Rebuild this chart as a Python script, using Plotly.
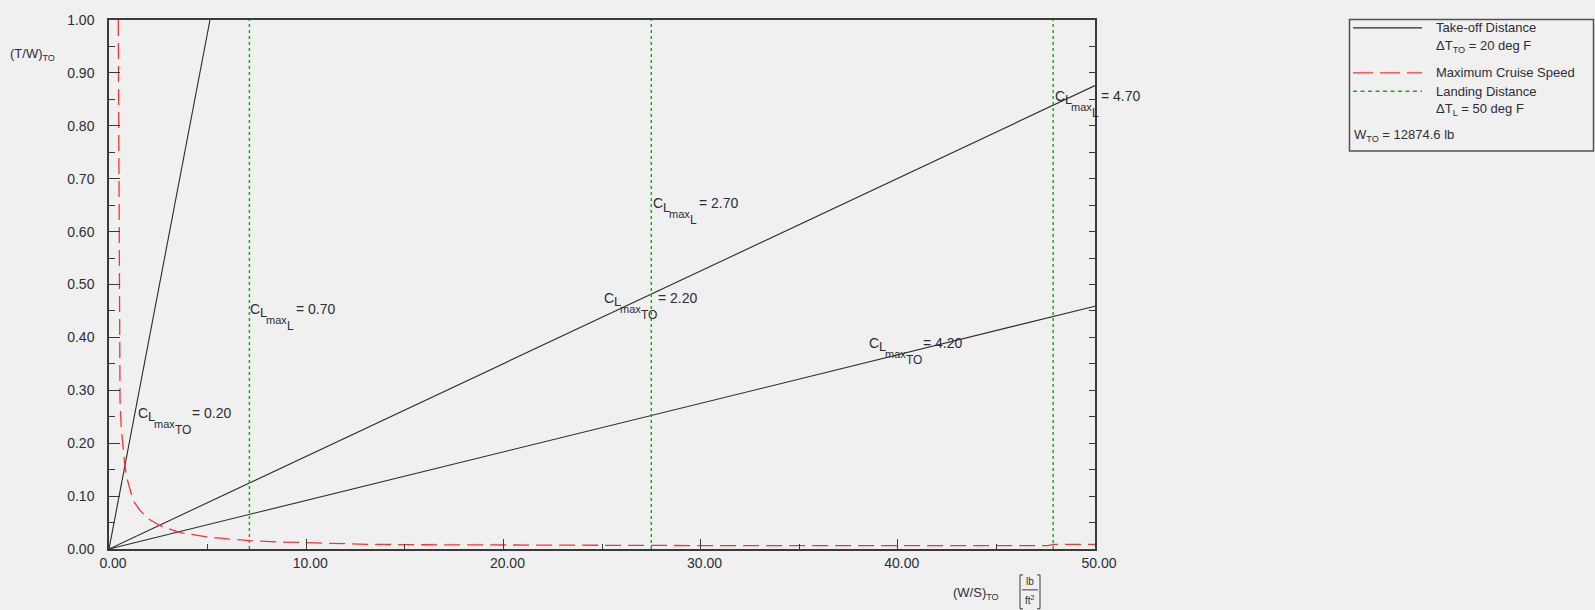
import plotly.graph_objects as go

# ---- data -------------------------------------------------------------
# Take-off distance lines (through the origin), one per CLmax_TO
to_cl = ["0.20", "2.20", "4.20"]
to_x_end = [5.12, 50.0, 50.0]
to_y_end = [1.0, 0.876, 0.459]

# Landing distance limits (vertical lines), one per CLmax_L
land_cl = ["0.70", "2.70", "4.70"]
land_x = [7.12, 27.50, 47.88]

# Maximum cruise speed requirement
cruise_ws = [0.47, 0.50, 0.56, 0.62, 0.69, 0.80, 0.90, 1.06, 1.22, 1.57, 2.00,
             2.59, 3.10, 3.60, 4.10, 4.95, 6.00, 7.15, 8.50, 9.70, 11.5, 13.07,
             16.0, 20.0, 25.0, 30.0, 35.0, 40.0, 47.6, 47.9, 50.0]
cruise_tw = [1.00, 0.60, 0.28, 0.23, 0.20, 0.16, 0.135, 0.111, 0.092, 0.073,
             0.057, 0.044, 0.037, 0.031, 0.028, 0.023, 0.019, 0.0157, 0.0135,
             0.012, 0.010, 0.0089, 0.0080, 0.0073, 0.0068, 0.0065, 0.0063,
             0.0062, 0.0062, 0.0088, 0.0088]

# Curve labels: anchor of the "C" glyph, subscript and value
label_x = [1.37, 7.06, 24.98, 27.48, 38.42, 47.89]
label_y = [0.258, 0.454, 0.475, 0.654, 0.390, 0.857]
label_sub = ["TO", "L", "TO", "L", "TO", "L"]
label_val = ["0.20", "0.70", "2.20", "2.70", "4.20", "4.70"]

x_ticks = [0, 10, 20, 30, 40, 50]
y_ticks = [0.0, 0.1, 0.2, 0.3, 0.4, 0.5, 0.6, 0.7, 0.8, 0.9, 1.0]
w_to = "12874.6"

# ---- style ------------------------------------------------------------
FONT = "Liberation Sans, Arial, sans-serif"
TXT = "#2d2d3a"
BG = "#f0f0f0"
BLACK = "#2a2a2a"
RED = "#ff3030"
GREEN = "#2e9e2e"
AX = "#3a3a3a"

W, H = 1595, 610
L, R, T, B = 109, 1095, 18, 549   # plot-area edges in pixels


def px(x):
    return (x - L) / (R - L)


def py(y):
    return (B - y) / (B - T)


fig = go.Figure()

for xe, ye in zip(to_x_end, to_y_end):
    fig.add_trace(go.Scatter(x=[0, xe], y=[0, ye], mode="lines",
                             line=dict(color=BLACK, width=1.1),
                             showlegend=False, hoverinfo="skip"))

for xv in land_x:
    fig.add_trace(go.Scatter(x=[xv, xv], y=[0, 1], mode="lines",
                             line=dict(color=GREEN, width=1.5, dash="3px,3px"),
                             showlegend=False, hoverinfo="skip"))

fig.add_trace(go.Scatter(x=cruise_ws, y=cruise_tw, mode="lines",
                         line=dict(color=RED, width=1.3, dash="16px,7px"),
                         showlegend=False, hoverinfo="skip"))

# carrier for the right-hand tick axis
fig.add_trace(go.Scatter(x=[0], y=[0], yaxis="y2", mode="lines",
                         line=dict(width=0), showlegend=False, hoverinfo="skip"))

ann = []
for lx, ly, sub, val in zip(label_x, label_y, label_sub, label_val):
    parts = [("C", 14, 0, 0), ("L", 13, 10, -4), ("max", 11, 16, -11),
             (sub, 12, 37, -17),
             ("= " + val, 14, 54 if sub == "TO" else 46, 0)]
    for txt, fs, dx, dy in parts:
        ann.append(dict(x=lx, y=ly, xref="x", yref="y", text=txt,
                        showarrow=False, xanchor="left", yanchor="middle",
                        xshift=dx, yshift=dy,
                        font=dict(family=FONT, size=fs, color=TXT)))

# axis titles
ann.append(dict(x=px(8), y=py(53), xref="paper", yref="paper",
                text="(T/W)<sub>TO</sub>", showarrow=False, xanchor="left",
                yanchor="middle", font=dict(family=FONT, size=13, color=TXT)))
ann.append(dict(x=px(976), y=py(594), xref="paper", yref="paper",
                text="(W/S)<sub>TO</sub>", showarrow=False, xanchor="center",
                yanchor="middle", font=dict(family=FONT, size=13, color=TXT)))
ann.append(dict(x=px(1030), y=py(582), xref="paper", yref="paper",
                text="lb", showarrow=False, xanchor="center",
                yanchor="middle", font=dict(family=FONT, size=10, color=TXT)))
ann.append(dict(x=px(1030), y=py(600), xref="paper", yref="paper",
                text="ft<sup>2</sup>", showarrow=False, xanchor="center",
                yanchor="middle", font=dict(family=FONT, size=10, color=TXT)))

shapes = []
# unit bracket [lb / ft^2]
for path in [f"M {px(1023)} {py(575)} L {px(1020)} {py(575)} L {px(1020)} {py(609)} L {px(1023)} {py(609)}",
             f"M {px(1037)} {py(575)} L {px(1040)} {py(575)} L {px(1040)} {py(609)} L {px(1037)} {py(609)}"]:
    shapes.append(dict(type="path", xref="paper", yref="paper", path=path,
                       line=dict(color=AX, width=1)))
shapes.append(dict(type="line", xref="paper", yref="paper",
                   x0=px(1022), x1=px(1038), y0=py(590), y1=py(590),
                   line=dict(color=AX, width=1)))

# legend box
shapes.append(dict(type="rect", xref="paper", yref="paper",
                   x0=px(1349.5), x1=px(1593.5), y0=py(17.5), y1=py(149.5),
                   line=dict(color="#505050", width=1.5), fillcolor=BG))
leg_items = [(26, BLACK, "solid", 1.2), (71, RED, "20px,7px", 1.3),
             (89.5, GREEN, "4px,3.5px", 1.5)]
for yy, col, dash, wd in leg_items:
    shapes.append(dict(type="line", xref="paper", yref="paper",
                       x0=px(1353), x1=px(1422), y0=py(yy), y1=py(yy),
                       line=dict(color=col, width=wd, dash=dash)))
leg_text = [(26, "Take-off Distance", 1434),
            (45, "\u0394T<sub>TO</sub> = 20 deg F", 1434),
            (71, "Maximum Cruise Speed", 1434),
            (89.5, "Landing Distance", 1434),
            (108, "\u0394T<sub>L</sub> = 50 deg F", 1434),
            (134, "W<sub>TO</sub> = " + w_to + " lb", 1352)]
for yy, txt, xx in leg_text:
    ann.append(dict(x=px(xx), y=py(yy), xref="paper", yref="paper", text=txt,
                    showarrow=False, xanchor="left", yanchor="middle",
                    font=dict(family=FONT, size=13, color=TXT)))

fig.update_layout(
    width=W, height=H,
    margin=dict(l=L, r=W - R, t=T, b=H - B, pad=0),
    paper_bgcolor=BG, plot_bgcolor=BG,
    showlegend=False,
    font=dict(family=FONT, size=14, color=TXT),
    xaxis=dict(range=[0, 50], tickvals=x_ticks, tickformat=".2f",
               ticks="inside", ticklen=10, tickwidth=1.3, tickcolor=AX,
               minor=dict(dtick=5, ticks="inside", ticklen=5, tickwidth=1.3,
                          tickcolor=AX, showgrid=False),
               showline=True, linecolor=AX, linewidth=1.5, mirror=True,
               showgrid=False, zeroline=False, ticklabelshift=4,
               ticklabelstandoff=0,
               tickfont=dict(family=FONT, size=14, color=TXT)),
    yaxis=dict(range=[0, 1], tickvals=y_ticks, tickformat=".2f",
               ticks="inside", ticklen=11, tickwidth=1.3, tickcolor=AX,
               minor=dict(dtick=0.05, ticks="inside", ticklen=6, tickwidth=1.3,
                          tickcolor=AX, showgrid=False),
               showline=True, linecolor=AX, linewidth=1.5, mirror=True,
               showgrid=False, zeroline=False, ticklabelstandoff=10,
               tickfont=dict(family=FONT, size=14, color=TXT)),
    yaxis2=dict(range=[0, 1], overlaying="y", side="right", tickvals=y_ticks,
                ticks="inside", ticklen=6, tickwidth=1.3, tickcolor=AX,
                minor=dict(dtick=0.05, ticks="inside", ticklen=6,
                           tickwidth=1.3, tickcolor=AX, showgrid=False),
                showticklabels=False, showgrid=False, zeroline=False,
                showline=False),
    annotations=ann,
    shapes=shapes,
)

fig.write_html("out.html")
